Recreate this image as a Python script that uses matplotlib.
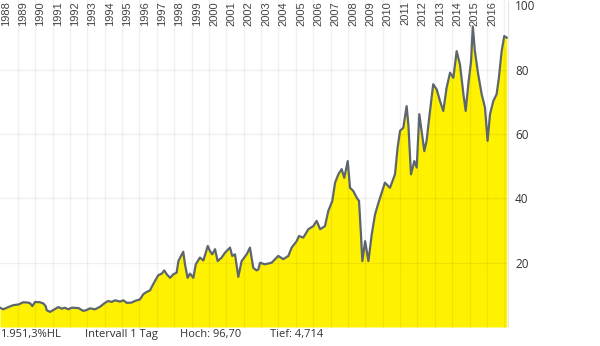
import matplotlib.pyplot as plt
import matplotlib.transforms as mtransforms

plt.rcParams['font.family'] = ['Open Sans', 'DejaVu Sans']

# price history (decimal year, value)
years = [1987.97, 1988.16, 1988.45, 1988.74, 1989.03, 1989.31, 1989.55, 1989.70,
         1989.83, 1989.99, 1990.27, 1990.47, 1990.60, 1990.66, 1990.85, 1991.04,
         1991.33, 1991.52, 1991.71, 1991.90, 1992.10, 1992.48, 1992.77, 1992.96,
         1993.15, 1993.44, 1993.73, 1994.01, 1994.20, 1994.40, 1994.59, 1994.88,
         1995.07, 1995.27, 1995.55, 1995.74, 1996.03, 1996.22, 1996.41, 1996.61,
         1996.70, 1996.89, 1997.08, 1997.28, 1997.43, 1997.57, 1997.76, 1997.95,
         1998.14, 1998.24, 1998.39, 1998.52, 1998.62, 1998.77, 1998.91, 1999.10,
         1999.24, 1999.48, 1999.68, 1999.93, 2000.06, 2000.19, 2000.35, 2000.50,
         2000.73, 2000.92, 2001.21, 2001.34, 2001.50, 2001.69, 2001.88, 2002.17,
         2002.36, 2002.55, 2002.74, 2002.84, 2002.94, 2003.22, 2003.61, 2003.99,
         2004.28, 2004.57, 2004.76, 2005.05, 2005.18, 2005.43, 2005.72, 2006.01,
         2006.20, 2006.40, 2006.68, 2006.87, 2007.10, 2007.26, 2007.45, 2007.64,
         2007.79, 2007.99, 2008.12, 2008.31, 2008.51, 2008.64, 2008.75, 2008.83,
         2008.99, 2009.18, 2009.37, 2009.56, 2009.75, 2010.13, 2010.42, 2010.71,
         2010.86, 2011.00, 2011.19, 2011.38, 2011.48, 2011.63, 2011.82, 2011.96,
         2012.11, 2012.24, 2012.40, 2012.53, 2012.68, 2012.91, 2013.11, 2013.30,
         2013.49, 2013.68, 2013.88, 2014.07, 2014.26, 2014.45, 2014.65, 2014.78,
         2014.93, 2015.09, 2015.19, 2015.31, 2015.50, 2015.70, 2015.89, 2016.04,
         2016.18, 2016.37, 2016.56, 2016.69, 2016.85, 2017.00, 2017.14]
values = [6.0, 5.5, 6.2, 6.8, 7.0, 7.7, 7.6, 7.4,
          6.5, 7.8, 7.7, 7.3, 6.5, 5.2, 4.7, 5.3,
          6.2, 5.7, 6.0, 5.5, 6.0, 5.9, 5.0, 5.3,
          5.8, 5.5, 6.3, 7.5, 8.1, 7.8, 8.3, 7.9,
          8.3, 7.5, 7.6, 8.1, 8.6, 10.2, 10.9, 11.4,
          12.4, 14.3, 16.1, 16.6, 17.6, 16.4, 15.3, 16.4,
          16.9, 20.5, 22.1, 23.4, 19.5, 15.3, 16.6, 15.3,
          19.5, 21.6, 20.7, 25.2, 23.6, 22.6, 24.2, 20.5,
          21.6, 23.1, 24.7, 22.1, 22.6, 15.6, 20.5, 22.6,
          24.7, 18.4, 17.6, 17.9, 20.0, 19.5, 20.0, 22.1,
          21.1, 22.1, 24.7, 26.7, 28.3, 27.8, 30.4, 31.4,
          33.0, 30.4, 31.4, 36.1, 39.2, 44.9, 47.5, 49.1,
          46.4, 51.6, 43.3, 42.3, 40.2, 39.2, 28.8, 20.5,
          26.7, 20.5, 28.8, 35.0, 38.5, 44.9, 43.3, 47.5,
          55.8, 61.0, 62.0, 68.7, 63.0, 47.5, 51.6, 49.6,
          66.2, 61.0, 54.7, 57.9, 65.1, 75.5, 73.9, 70.3,
          67.2, 74.4, 79.1, 77.5, 85.8, 81.7, 72.4, 67.2,
          75.5, 82.7, 93.5, 85.8, 78.6, 72.4, 68.3, 57.9,
          66.2, 70.3, 72.4, 77.5, 85.8, 90.5, 90.0]

year_labels = list(range(1988, 2017))
y_ticks = [20, 40, 60, 80, 100]
footer = ["1.951,3%HL", "Intervall 1 Tag", "Hoch: 96,70", "Tief: 4,714"]
footer_x = [0, 85, 180, 270]

fig = plt.figure(figsize=(6, 3.46), dpi=100)
ax = fig.add_axes([0, 19 / 346, 508 / 600, 321.5 / 346])

ax.fill_between(years, values, 0, color='#fff200', lw=0, zorder=1)
ax.plot(years, values, color='#5d666d', lw=1.6, zorder=3)

ax.set_xlim(1987.97, 1987.97 + 508 / 17.37)
ax.set_ylim(0, 100)

# grid on top of the fill, slightly see-through
for yr in range(1989, 2018):
    ax.axvline(yr, ymin=0, ymax=1.02, color='black', alpha=0.06, lw=1,
               zorder=2, clip_on=False)
for v in [20, 40, 60, 80]:
    ax.axhline(v, color='black', alpha=0.06, lw=1, zorder=2)

trans = mtransforms.blended_transform_factory(ax.transData, fig.transFigure)
for yr in year_labels:
    ax.text(yr + 0.3, 1 - 1 / 346, str(yr), transform=trans, rotation=90,
            ha='center', va='top', fontsize=8, color='#444444', zorder=1.5,
            family=['Liberation Sans', 'DejaVu Sans'])

ax.yaxis.tick_right()
ax.set_yticks(y_ticks)
ax.set_yticklabels([str(v) for v in y_ticks])
ax.tick_params(axis='y', length=0, pad=5, labelsize=8.5, labelcolor='#333333')
ax.set_xticks([])

for side in ['top', 'left', 'bottom']:
    ax.spines[side].set_visible(False)
ax.spines['right'].set_color('#e6e6e6')
ax.spines['right'].set_bounds(0, 101.5)

for txt, px in zip(footer, footer_x):
    fig.text(px / 600, 1 - 335 / 346, txt, ha='left', va='center',
             fontsize=8, color='#333333')

fig.savefig('out.png', dpi=100)
